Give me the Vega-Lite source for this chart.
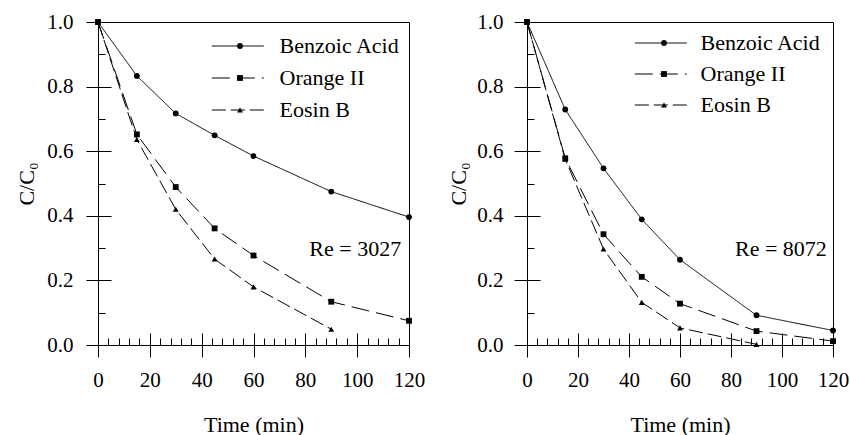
{
  "$schema": "https://vega.github.io/schema/vega-lite/v6.json",
  "padding": {"left": 15, "top": 10, "right": 5, "bottom": 0},
  "background": "white",
  "datasets": {
    "pts": [
      {"panel": "3027", "series": "Benzoic Acid", "t": 0, "c": 1.0},
      {"panel": "3027", "series": "Benzoic Acid", "t": 15, "c": 0.833},
      {"panel": "3027", "series": "Benzoic Acid", "t": 30, "c": 0.717},
      {"panel": "3027", "series": "Benzoic Acid", "t": 45, "c": 0.649},
      {"panel": "3027", "series": "Benzoic Acid", "t": 60, "c": 0.585},
      {"panel": "3027", "series": "Benzoic Acid", "t": 90, "c": 0.475},
      {"panel": "3027", "series": "Benzoic Acid", "t": 120, "c": 0.396},
      {"panel": "3027", "series": "Orange II", "t": 0, "c": 1.0},
      {"panel": "3027", "series": "Orange II", "t": 15, "c": 0.652},
      {"panel": "3027", "series": "Orange II", "t": 30, "c": 0.489},
      {"panel": "3027", "series": "Orange II", "t": 45, "c": 0.361},
      {"panel": "3027", "series": "Orange II", "t": 60, "c": 0.277},
      {"panel": "3027", "series": "Orange II", "t": 90, "c": 0.134},
      {"panel": "3027", "series": "Orange II", "t": 120, "c": 0.075},
      {"panel": "3027", "series": "Eosin B", "t": 0, "c": 1.0},
      {"panel": "3027", "series": "Eosin B", "t": 15, "c": 0.636},
      {"panel": "3027", "series": "Eosin B", "t": 30, "c": 0.42},
      {"panel": "3027", "series": "Eosin B", "t": 45, "c": 0.266},
      {"panel": "3027", "series": "Eosin B", "t": 60, "c": 0.18},
      {"panel": "3027", "series": "Eosin B", "t": 90, "c": 0.049},
      {"panel": "8072", "series": "Benzoic Acid", "t": 0, "c": 1.0},
      {"panel": "8072", "series": "Benzoic Acid", "t": 15, "c": 0.729},
      {"panel": "8072", "series": "Benzoic Acid", "t": 30, "c": 0.547},
      {"panel": "8072", "series": "Benzoic Acid", "t": 45, "c": 0.389},
      {"panel": "8072", "series": "Benzoic Acid", "t": 60, "c": 0.264},
      {"panel": "8072", "series": "Benzoic Acid", "t": 90, "c": 0.092},
      {"panel": "8072", "series": "Benzoic Acid", "t": 120, "c": 0.045},
      {"panel": "8072", "series": "Orange II", "t": 0, "c": 1.0},
      {"panel": "8072", "series": "Orange II", "t": 15, "c": 0.578},
      {"panel": "8072", "series": "Orange II", "t": 30, "c": 0.343},
      {"panel": "8072", "series": "Orange II", "t": 45, "c": 0.211},
      {"panel": "8072", "series": "Orange II", "t": 60, "c": 0.128},
      {"panel": "8072", "series": "Orange II", "t": 90, "c": 0.043},
      {"panel": "8072", "series": "Orange II", "t": 120, "c": 0.012},
      {"panel": "8072", "series": "Eosin B", "t": 0, "c": 1.0},
      {"panel": "8072", "series": "Eosin B", "t": 15, "c": 0.575},
      {"panel": "8072", "series": "Eosin B", "t": 30, "c": 0.297},
      {"panel": "8072", "series": "Eosin B", "t": 45, "c": 0.132},
      {"panel": "8072", "series": "Eosin B", "t": 60, "c": 0.053},
      {"panel": "8072", "series": "Eosin B", "t": 90, "c": 0.002}
    ]
  },
  "data": {"name": "pts"},
  "spacing": 21,
  "resolve": {
    "scale": {"strokeDash": "independent", "shape": "independent", "size": "independent"},
    "legend": {"strokeDash": "independent", "shape": "independent", "size": "independent"}
  },
  "hconcat": [
    {
      "width": 311,
      "height": 323,
      "resolve": {"axis": {"x": "independent", "y": "independent"}},
      "layer": [
        {
          "transform": [{"filter": "datum.panel === '3027'"}],
          "mark": {"type": "line", "color": "black", "strokeWidth": 1},
          "encoding": {
            "x": {"field": "t", "type": "quantitative", "scale": {"domain": [0, 120], "nice": false},
              "axis": {"orient": "bottom", "values": [0, 20, 40, 60, 80, 100, 120], "tickSize": 12, "labelPadding": 12, "title": "Time (min)", "titlePadding": 24}},
            "y": {"field": "c", "type": "quantitative", "scale": {"domain": [0, 1], "nice": false},
              "axis": {"orient": "left", "values": [0, 0.2, 0.4, 0.6, 0.8, 1.0], "format": ".1f", "tickSize": 12, "labelPadding": 13, "title": "C/C₀", "titlePadding": 8}},
            "strokeDash": {"field": "series", "type": "nominal",
              "scale": {"domain": ["Benzoic Acid", "Orange II", "Eosin B"], "range": [[1, 0], [18, 7], [14, 5]]},
              "legend": {"orient": "none", "legendX": 128.8, "legendY": 13, "title": null, "symbolType": "M-5,0H5", "symbolSize": 108, "labelOffset": 30.8, "rowPadding": 10}}
          }
        },
        {
          "transform": [{"filter": "datum.panel === '3027'"}],
          "mark": {"type": "point", "filled": true, "color": "black", "opacity": 1},
          "encoding": {
            "x": {"field": "t", "type": "quantitative", "scale": {"domain": [0, 120], "nice": false},
              "axis": {"orient": "bottom", "values": [0, 20, 40, 60, 80, 100, 120], "tickSize": -12, "labels": false, "domain": false, "title": null}},
            "y": {"field": "c", "type": "quantitative", "scale": {"domain": [0, 1], "nice": false},
              "axis": {"orient": "left", "values": [0, 0.2, 0.4, 0.6, 0.8, 1.0], "tickSize": -13, "labels": false, "domain": false, "title": null}},
            "shape": {"field": "series", "type": "nominal",
              "scale": {"domain": ["Eosin B", "Orange II", "Benzoic Acid"], "range": ["triangle-up", "square", "circle"]},
              "legend": {"orient": "none", "legendX": 131, "legendY": 13, "title": null, "values": ["Benzoic Acid", "Orange II", "Eosin B"], "labelExpr": "' '", "labelOffset": 15, "rowPadding": 10}},
            "size": {"field": "series", "type": "nominal",
              "scale": {"domain": ["Eosin B", "Orange II", "Benzoic Acid"], "range": [34, 34, 16]},
              "legend": {"orient": "none", "legendX": 131, "legendY": 13, "title": null, "values": ["Benzoic Acid", "Orange II", "Eosin B"], "labelExpr": "' '", "labelOffset": 15, "rowPadding": 10}}
          }
        },
        {
          "data": {"values": [{"label": "Re = 3027"}]},
          "mark": {"type": "text", "align": "right", "baseline": "middle", "font": "Liberation Serif", "fontSize": 22, "color": "black"},
          "encoding": {
            "text": {"field": "label"},
            "x": {"datum": 117, "type": "quantitative", "scale": {"domain": [0, 120], "nice": false},
              "axis": {"orient": "bottom", "values": [4, 8, 12, 16, 24, 28, 32, 36, 44, 48, 52, 56, 64, 68, 72, 76, 84, 88, 92, 96, 104, 108, 112, 116], "tickSize": -7, "labels": false, "domain": false, "title": null}},
            "y": {"datum": 0.297, "type": "quantitative", "scale": {"domain": [0, 1], "nice": false},
              "axis": {"orient": "left", "values": [0.1, 0.3, 0.5, 0.7, 0.9], "tickSize": -7, "labels": false, "domain": false, "title": null}}
          }
        }
      ]
    },
    {
      "width": 306,
      "height": 323,
      "resolve": {"axis": {"x": "independent", "y": "independent"}},
      "layer": [
        {
          "transform": [{"filter": "datum.panel === '8072'"}],
          "mark": {"type": "line", "color": "black", "strokeWidth": 1},
          "encoding": {
            "x": {"field": "t", "type": "quantitative", "scale": {"domain": [0, 120], "nice": false},
              "axis": {"orient": "bottom", "values": [0, 20, 40, 60, 80, 100, 120], "tickSize": 12, "labelPadding": 12, "title": "Time (min)", "titlePadding": 24}},
            "y": {"field": "c", "type": "quantitative", "scale": {"domain": [0, 1], "nice": false},
              "axis": {"orient": "left", "values": [0, 0.2, 0.4, 0.6, 0.8, 1.0], "format": ".1f", "tickSize": 13, "labelPadding": 11, "title": "C/C₀", "titlePadding": 6}},
            "strokeDash": {"field": "series", "type": "nominal",
              "scale": {"domain": ["Benzoic Acid", "Orange II", "Eosin B"], "range": [[1, 0], [18, 7], [14, 5]]},
              "legend": {"orient": "none", "legendX": 122.8, "legendY": 10, "title": null, "symbolType": "M-5,0H5", "symbolSize": 108, "labelOffset": 28.8, "rowPadding": 9}}
          }
        },
        {
          "transform": [{"filter": "datum.panel === '8072'"}],
          "mark": {"type": "point", "filled": true, "color": "black", "opacity": 1},
          "encoding": {
            "x": {"field": "t", "type": "quantitative", "scale": {"domain": [0, 120], "nice": false},
              "axis": {"orient": "bottom", "values": [0, 20, 40, 60, 80, 100, 120], "tickSize": -12, "labels": false, "domain": false, "title": null}},
            "y": {"field": "c", "type": "quantitative", "scale": {"domain": [0, 1], "nice": false},
              "axis": {"orient": "left", "values": [0, 0.2, 0.4, 0.6, 0.8, 1.0], "tickSize": -13, "labels": false, "domain": false, "title": null}},
            "shape": {"field": "series", "type": "nominal",
              "scale": {"domain": ["Eosin B", "Orange II", "Benzoic Acid"], "range": ["triangle-up", "square", "circle"]},
              "legend": {"orient": "none", "legendX": 126, "legendY": 10, "title": null, "values": ["Benzoic Acid", "Orange II", "Eosin B"], "labelExpr": "' '", "labelOffset": 12, "rowPadding": 9}},
            "size": {"field": "series", "type": "nominal",
              "scale": {"domain": ["Eosin B", "Orange II", "Benzoic Acid"], "range": [34, 34, 16]},
              "legend": {"orient": "none", "legendX": 126, "legendY": 10, "title": null, "values": ["Benzoic Acid", "Orange II", "Eosin B"], "labelExpr": "' '", "labelOffset": 12, "rowPadding": 9}}
          }
        },
        {
          "data": {"values": [{"label": "Re = 8072"}]},
          "mark": {"type": "text", "align": "right", "baseline": "middle", "font": "Liberation Serif", "fontSize": 22, "color": "black"},
          "encoding": {
            "text": {"field": "label"},
            "x": {"datum": 117.6, "type": "quantitative", "scale": {"domain": [0, 120], "nice": false},
              "axis": {"orient": "bottom", "values": [4, 8, 12, 16, 24, 28, 32, 36, 44, 48, 52, 56, 64, 68, 72, 76, 84, 88, 92, 96, 104, 108, 112, 116], "tickSize": -7, "labels": false, "domain": false, "title": null}},
            "y": {"datum": 0.297, "type": "quantitative", "scale": {"domain": [0, 1], "nice": false},
              "axis": {"orient": "left", "values": [0.1, 0.3, 0.5, 0.7, 0.9], "tickSize": -7, "labels": false, "domain": false, "title": null}}
          }
        }
      ]
    }
  ],
  "config": {
    "font": "Liberation Serif",
    "view": {"stroke": "black", "strokeWidth": 1},
    "axis": {"grid": false, "domainColor": "black", "domainWidth": 1, "tickColor": "black", "tickWidth": 1,
      "labelColor": "black", "labelFont": "Liberation Serif", "labelFontSize": 21, "labelFlush": false, "labelOverlap": false,
      "titleColor": "black", "titleFont": "Liberation Serif", "titleFontSize": 22, "titleFontWeight": "normal"},
    "legend": {"labelFont": "Liberation Serif", "labelFontSize": 22, "labelColor": "black", "padding": 0, "symbolStrokeColor": "black", "symbolFillColor": "black", "symbolStrokeWidth": 1}
  }
}
